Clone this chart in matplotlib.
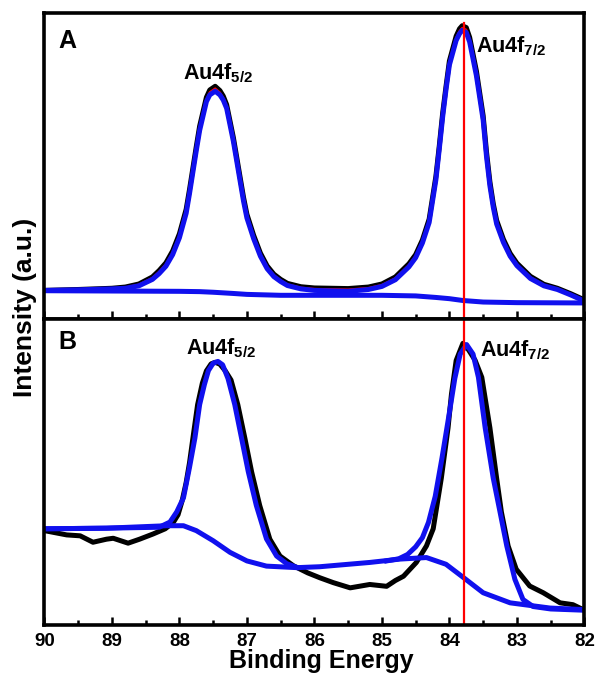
import matplotlib
matplotlib.use("Agg")
import matplotlib.pyplot as plt
from matplotlib.ticker import MultipleLocator

plt.rcParams['font.family'] = ['Liberation Sans', 'DejaVu Sans']
plt.rcParams['font.weight'] = 'bold'
plt.rcParams['mathtext.fontset'] = 'custom'
plt.rcParams['mathtext.rm'] = 'Liberation Sans:bold'
plt.rcParams['mathtext.bf'] = 'Liberation Sans:bold'

# ---- panel A ----
be_a = [90.0, 89.5, 89.0, 88.8, 88.6, 88.4, 88.3, 88.2, 88.1, 88.0,
        87.9, 87.85, 87.8, 87.75, 87.7, 87.6, 87.55, 87.47, 87.4, 87.35,
        87.3, 87.2, 87.15, 87.1, 87.05, 87.0, 86.9, 86.8, 86.7, 86.6,
        86.5, 86.4, 86.2, 86.0, 85.5, 85.2, 85.0, 84.8, 84.6, 84.5,
        84.4, 84.3, 84.2, 84.15, 84.1, 84.05, 84.0, 83.9, 83.85, 83.81,
        83.75, 83.7, 83.6, 83.5, 83.45, 83.4, 83.35, 83.3, 83.2, 83.1,
        83.0, 82.8, 82.6, 82.4, 82.2, 82.0]
counts_a = [9.3, 9.6, 10.0, 10.4, 11.4, 13.7, 15.8, 18.3, 22.2, 27.8,
            35.8, 42.3, 49.3, 56.3, 63.0, 72.4, 74.8, 76.0, 74.6, 72.8,
            70.0, 59.2, 52.7, 46.2, 39.7, 34.2, 27.3, 21.5, 17.3, 14.6,
            12.9, 11.6, 10.5, 10.1, 9.9, 10.4, 11.4, 13.7, 18.0, 21.0,
            25.8, 32.6, 46.6, 56.5, 67.2, 76.0, 84.3, 92.4, 94.8, 95.8,
            95.2, 92.0, 81.0, 66.4, 54.5, 44.8, 37.6, 32.2, 26.0, 21.4,
            18.2, 13.9, 11.3, 10.0, 8.2, 6.2]
fit_a = [9.3, 9.6, 9.9, 10.3, 11.2, 13.4, 15.4, 17.9, 21.7, 27.3,
         35.3, 41.8, 48.8, 55.8, 62.5, 71.8, 74.1, 75.3, 74.0, 72.2,
         69.5, 58.7, 52.2, 45.7, 39.2, 33.7, 26.9, 21.1, 17.0, 14.3,
         12.6, 11.3, 10.2, 9.8, 9.6, 10.1, 11.1, 13.3, 17.6, 20.6,
         25.3, 32.1, 46.1, 56.0, 66.7, 75.5, 83.7, 91.8, 94.1, 95.1,
         94.5, 91.3, 80.3, 65.7, 53.8, 44.2, 37.0, 31.6, 25.5, 21.0,
         17.8, 13.6, 11.1, 9.9, 8.0, 6.0]
env_a = [9.3, 9.5, 9.8, 10.0, 10.8, 12.9, 14.8, 17.2, 21.0, 26.5,
         34.5, 41.0, 48.0, 55.0, 61.6, 71.0, 73.2, 74.4, 73.2, 71.5,
         68.8, 58.0, 51.5, 45.0, 38.5, 33.0, 26.2, 20.5, 16.4, 13.8,
         12.2, 10.9, 9.8, 9.3, 9.0, 9.6, 10.6, 12.8, 17.0, 20.0,
         24.8, 31.5, 45.5, 55.5, 66.0, 75.0, 83.0, 91.0, 93.2, 94.3,
         93.6, 90.5, 79.5, 65.0, 53.0, 43.5, 36.5, 31.0, 25.0, 20.5,
         17.4, 13.2, 10.8, 9.6, 7.8, 5.8]
be_bg_a = [90.0, 89.0, 88.0, 87.7, 87.5, 87.2, 87.0, 86.5, 86.0, 85.0, 84.5,
           84.2, 84.0, 83.8, 83.5, 83.0, 82.0]
bg_a = [9.2, 9.1, 9.0, 8.9, 8.7, 8.3, 8.0, 7.7, 7.7, 7.7, 7.5,
        7.0, 6.6, 6.0, 5.5, 5.3, 5.2]

# ---- panel B ----
be_b = [90.0, 89.67, 89.47, 89.28, 89.08, 88.98, 88.76, 88.59, 88.39, 88.21,
        88.09, 88.02, 87.96, 87.90, 87.85, 87.80, 87.73, 87.66, 87.60, 87.53,
        87.47, 87.40, 87.32, 87.235, 87.135, 87.03, 86.93, 86.81, 86.66, 86.51,
        86.31, 86.10, 85.92, 85.72, 85.47, 85.18, 84.93, 84.80, 84.68, 84.49,
        84.34, 84.24, 84.12, 84.02, 83.97, 83.90, 83.80, 83.72, 83.62, 83.52,
        83.40, 83.30, 83.23, 83.13, 83.01, 82.81, 82.61, 82.36, 82.17, 82.02]
counts_b = [30.8, 29.4, 29.1, 27.0, 28.0, 28.3, 26.7, 28.0, 29.7, 31.4,
            33.5, 36.0, 40.5, 46.5, 53.0, 61.0, 72.0, 79.0, 83.0, 85.3,
            85.8, 85.2, 83.0, 80.0, 72.0, 61.0, 50.0, 39.0, 28.0, 22.5,
            19.3, 17.0, 15.4, 13.8, 12.1, 13.2, 12.6, 14.5, 15.9, 20.4,
            25.8, 31.4, 47.9, 64.4, 75.3, 86.4, 92.0, 90.0, 86.5, 80.9,
            64.4, 47.9, 36.9, 25.8, 18.2, 12.7, 10.5, 7.2, 6.6, 5.0]

be_bg_b = [90.0, 89.08, 88.19, 87.94, 87.75, 87.50, 87.25, 87.00, 86.71, 86.26,
           85.92, 85.18, 84.73, 84.34, 84.05, 83.80, 83.50, 83.10, 82.51, 82.02]
bg_b = [31.4, 31.6, 32.4, 32.4, 30.8, 27.5, 23.7, 20.9, 19.2, 18.7,
        19.0, 20.4, 21.5, 22.0, 19.8, 15.6, 10.5, 7.2, 5.5, 5.0]

be_p52 = [90.0, 89.08, 88.30, 88.14, 88.04, 87.94, 87.85, 87.77, 87.70, 87.63,
          87.57, 87.50, 87.43, 87.36, 87.28, 87.18, 87.08, 86.98, 86.86, 86.71,
          86.56, 86.41, 86.26]
p52 = [31.4, 31.6, 31.9, 33.6, 36.9, 41.5, 51.5, 61.1, 72.0, 78.5,
       83.1, 85.5, 86.1, 85.0, 80.5, 72.0, 61.1, 50.1, 39.0, 28.1,
       22.5, 20.0, 18.8]

be_p72 = [84.93, 84.75, 84.62, 84.50, 84.40, 84.31, 84.21, 84.11, 84.01, 83.92,
          83.84, 83.745, 83.65, 83.57, 83.47, 83.35, 83.25, 83.15, 83.03, 82.91,
          82.76, 82.50, 82.02]
p72 = [20.9, 21.6, 23.0, 25.5, 28.5, 33.5, 42.0, 54.5, 68.0, 80.5,
       88.5, 91.6, 88.5, 80.9, 64.4, 47.9, 36.9, 25.8, 14.9, 8.3,
       6.0, 5.2, 4.8]

au_metal = 83.79
blue = '#1010ee'

fig, (axA, axB) = plt.subplots(2, 1, sharex=True, figsize=(6, 6.77), dpi=100)
fig.subplots_adjust(left=0.074, right=0.974, top=0.981, bottom=0.077, hspace=0)

lw = 3.6
axA.plot(be_a, counts_a, color='black', lw=lw, solid_joinstyle='round')
axA.plot(be_a, fit_a, color='red', lw=1.5)
axA.plot(be_a, env_a, color=blue, lw=lw, solid_joinstyle='round')
axA.plot(be_bg_a, bg_a, color=blue, lw=lw, solid_joinstyle='round')
axA.axvline(au_metal, ymax=0.966, color='red', lw=1.6)

axB.plot(be_b, counts_b, color='black', lw=lw, solid_joinstyle='round')
axB.plot(be_bg_b, bg_b, color=blue, lw=lw, solid_joinstyle='round')
axB.plot(be_p52, p52, color=blue, lw=lw, solid_joinstyle='round')
axB.plot(be_p72, p72, color=blue, lw=lw, solid_joinstyle='round')
axB.axvline(au_metal, color='red', lw=1.6)

for ax in (axA, axB):
    ax.set_xlim(90, 82)
    ax.set_ylim(0, 100)
    ax.set_yticks([])
    for s in ax.spines.values():
        s.set_linewidth(2.6)
    ax.xaxis.set_major_locator(MultipleLocator(1))
    ax.xaxis.set_minor_locator(MultipleLocator(0.5))
    ax.tick_params(axis='x', which='major', direction='in', length=6, width=1.8,
                   top=False, labelsize=13.5, pad=6)
    ax.tick_params(axis='x', which='minor', direction='in', length=3.5, width=1.8,
                   top=False)

axA.tick_params(axis='x', which='both', labelbottom=False)

# panel letters and peak labels
axA.text(89.8, 88.6, 'A', fontsize=18, fontweight='bold')
axB.text(89.8, 90.1, 'B', fontsize=18, fontweight='bold')
axA.text(87.95, 78.2, r'Au4f$_{5/2}$', fontsize=15.5)
axA.text(83.61, 87.0, r'Au4f$_{7/2}$', fontsize=15.5)
axB.text(87.90, 88.4, r'Au4f$_{5/2}$', fontsize=15.5)
axB.text(83.55, 87.8, r'Au4f$_{7/2}$', fontsize=15.5)

fig.text(0.536, 0.013, 'Binding Energy', ha='center', va='baseline',
         fontsize=18, fontweight='bold')
fig.text(0.042, 0.5465, 'Intensity (a.u.)', ha='center', va='center',
         rotation=90, fontsize=19, fontweight='bold')

plt.savefig('out.png', dpi=100)
